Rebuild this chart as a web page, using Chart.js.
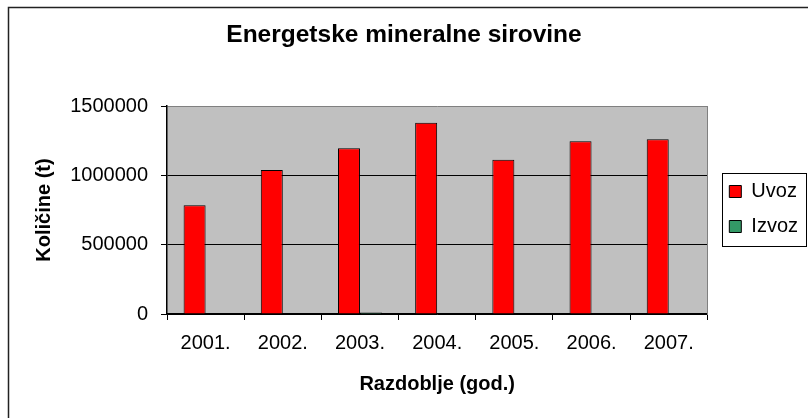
<!DOCTYPE html>
<html lang="hr">
<head>
  <meta charset="UTF-8" />
  <title>Energetske mineralne sirovine</title>
  <script src="https://cdn.jsdelivr.net/npm/chart.js"></script>
  <style>
    body { margin: 0; background: #fff; }
    .wrap { width: 808px; height: 418px; }
  </style>
</head>
<body>
  <div class="wrap"><canvas id="chart" width="808" height="418"></canvas></div>

  <script>
    // Podaci
    const godine = ['2001.', '2002.', '2003.', '2004.', '2005.', '2006.', '2007.'];
    const uvoz = [785000, 1038000, 1195000, 1380000, 1113000, 1245000, 1260000];
    const izvoz = [0, 0, 10000, 0, 0, 0, 0];
    const yTicks = [0, 500000, 1000000, 1500000];

    const FONT = 'Arial, "Liberation Sans", sans-serif';

    // siva pozadina, okvir oko grafa i okvir legende
    const decor = {
      id: 'decor',
      beforeDraw(chart) {
        const { ctx, chartArea: a } = chart;
        ctx.save();
        ctx.fillStyle = '#fff';
        ctx.fillRect(0, 0, chart.width, chart.height);
        ctx.fillStyle = '#c0c0c0';
        ctx.fillRect(a.left, a.top, a.right - a.left, a.bottom - a.top);
        ctx.strokeStyle = '#222';
        ctx.lineWidth = 1.5;
        ctx.strokeRect(8.5, 7.5, 1000, 1000);
        ctx.restore();
      },
      afterDraw(chart) {
        const lg = chart.legend;
        if (!lg || !lg.legendHitBoxes || !lg.legendHitBoxes.length) return;
        const hb = lg.legendHitBoxes;
        const first = hb[0], last = hb[hb.length - 1];
        const ctx = chart.ctx;
        ctx.save();
        ctx.strokeStyle = '#000';
        ctx.lineWidth = 1;
        const x0 = Math.round(first.left - 7) + 0.5;
        const y0 = Math.round(first.top - 9) + 0.5;
        const x1 = Math.round(lg.right - 2) + 0.5;
        const y1 = Math.round(last.top + last.height + 9) + 0.5;
        ctx.strokeRect(x0, y0, x1 - x0, y1 - y0);
        ctx.restore();
      }
    };

    new Chart(document.getElementById('chart'), {
      type: 'bar',
      data: {
        labels: godine,
        datasets: [
          {
            label: 'Uvoz',
            data: uvoz,
            backgroundColor: '#ff0000',
            borderColor: '#000',
            borderWidth: 1,
            borderSkipped: 'bottom',
            categoryPercentage: 0.57,
            barPercentage: 1.0
          },
          {
            label: 'Izvoz',
            data: izvoz,
            backgroundColor: '#339966',
            borderColor: '#000',
            borderWidth: 1,
            borderSkipped: 'bottom',
            categoryPercentage: 0.57,
            barPercentage: 1.0
          }
        ]
      },
      options: {
        responsive: false,
        animation: false,
        layout: { padding: 0 },
        plugins: {
          title: {
            display: true,
            text: 'Energetske mineralne sirovine',
            color: '#000',
            font: { family: FONT, size: 24.5, weight: 'bold' },
            padding: { top: 21, bottom: 55.6 }
          },
          legend: {
            position: 'right',
            labels: {
              color: '#000',
              font: { family: FONT, size: 20 },
              boxWidth: 12,
              boxHeight: 12,
              padding: 15
            }
          },
          tooltip: { enabled: false }
        },
        scales: {
          x: {
            grid: {
              display: true,
              drawOnChartArea: false,
              offset: true,
              tickLength: 6,
              color: '#000',
              tickColor: '#000'
            },
            border: { display: true, color: '#000', width: 1.5 },
            ticks: {
              color: '#000',
              font: { family: FONT, size: 20 },
              padding: 11,
              maxRotation: 0
            },
            title: {
              display: true,
              text: 'Razdoblje (god.)',
              color: '#000',
              font: { family: FONT, size: 20, weight: 'bold' },
              padding: { top: 0, bottom: 22 }
            },
            afterFit(s) { s.height = 104; }
          },
          y: {
            min: 0,
            max: 1500000,
            afterBuildTicks(s) { s.ticks = yTicks.map(v => ({ value: v })); },
            grid: {
              color: ctx => (ctx.tick && ctx.tick.value === 1500000 ? '#808080' : '#000'),
              tickColor: '#000',
              tickLength: 6,
              lineWidth: 1
            },
            border: { display: true, color: '#000', width: 1.5 },
            ticks: {
              color: '#000',
              font: { family: FONT, size: 20 },
              padding: 13,
              callback: v => String(v)
            },
            title: {
              display: true,
              text: 'Količine (t)',
              color: '#000',
              font: { family: FONT, size: 20, weight: 'bold' },
              padding: { top: 32, bottom: 0 }
            },
            afterFit(s) { s.width = 167; }
          },
          yR: {
            type: 'linear',
            position: 'right',
            display: true,
            grid: { display: false },
            ticks: { display: false },
            border: { display: true, color: '#808080', width: 1 },
            afterFit(s) { s.width = 7; }
          }
        }
      },
      plugins: [decor]
    });
  </script>
</body>
</html>
